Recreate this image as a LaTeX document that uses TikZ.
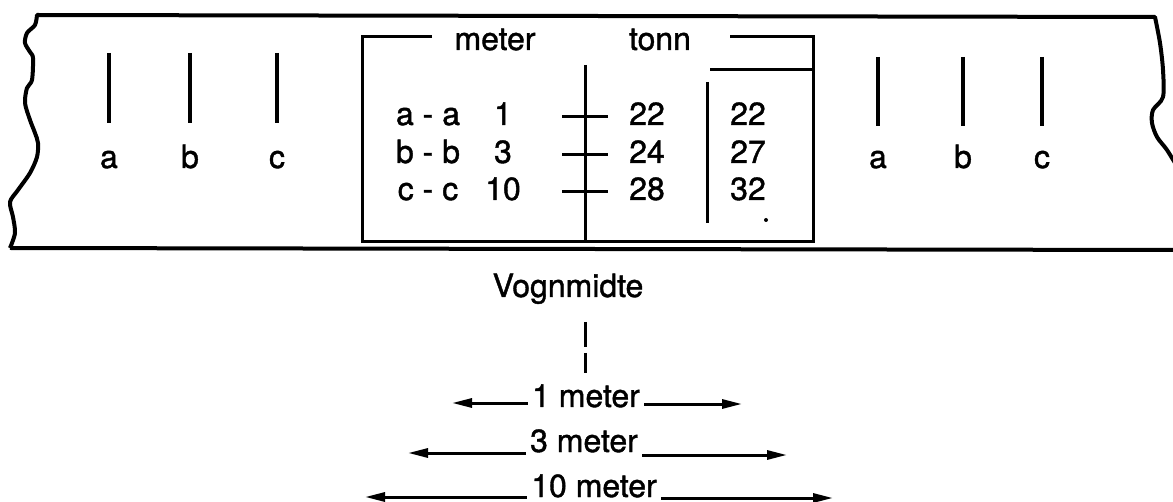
\documentclass[tikz,border=0pt]{standalone}
\usepackage{fontspec}
\setmainfont{TeX Gyre Heros}[FakeBold=1.2]
\usetikzlibrary{arrows.meta}

\begin{document}
\begin{tikzpicture}[x=0.5pt,y=-0.5pt,>={Triangle[length=10pt,width=4.5pt]},
  font=\fontsize{16}{19}\selectfont,
  every node/.style={anchor=base,inner sep=2pt},
  edge/.style={line width=2pt,line join=round},
  frame/.style={line width=1.5pt},
  tickline/.style={line width=1.8pt},
  span/.style={->,line width=1.5pt}]
\useasboundingbox (0,0) rectangle (1173,502);
% wagon floor, torn at both ends
\draw[edge] plot[smooth] coordinates {(10,248) (15,233) (13,217) (10,202) (18,190) (30,173)
  (37,157) (38,143) (35,133) (30,120) (25,103) (27,88) (32,80) (33,58) (30,52) (25,43)
  (27,33) (35,25) (37,15)}
  -- plot[smooth] coordinates {(1155,17) (1160,43) (1163,70) (1163,97) (1153,110)
  (1152,123) (1157,137) (1167,150) (1178,168)};
\draw[edge] (10,248) -- (1178,250);
\foreach \x/\l in {109/a,190/b,277/c}{
\draw[tickline] (\x,53)--(\x,123);
\node (left\l) at (\x,168) {\l};}
\foreach \x/\l in {878/a,963/b,1042/c}{
\draw[tickline] (\x,57)--(\x,126);
\node (right\l) at (\x,168) {\l};}
% table
\node (meter) at (495,50) {meter};
\node (tonn) at (660,50) {tonn};
\draw[frame] (432,37)--(362,37)--(362,242)--(813,242)--(813,37)--(730,37);
\draw[frame] (710,70)--(813,70);
\draw[frame] (585,65)--(585,242);
\draw[frame] (707,82)--(707,223);
\foreach \y/\p/\d/\t/\u [count=\i] in {117/a - a/1/22/22,155/b - b/3/24/27,192/c - c/10/28/32}{
\draw[frame] (562,\y)--(608,\y);
\node (pair\i) at (428,\y+8) {\p};
\node (dist\i) at (503,\y+8) {\d};
\node (load\i) at (647,\y+8) {\t};
\node (more\i) at (748,\y+8) {\u};}
\fill (766,220) circle (1pt);
% centre of wagon
\node (vogn) at (568,297) {Vognmidte};
\draw[frame,dash pattern=on 12.5pt off 3pt] (585,322)--(585,373);
\node (one) at (586,407) {1 meter};
\coordinate (oneL) at (452,403);
\coordinate (oneR) at (742,404);
\draw[span] (one.west |- oneL)--(oneL);
\draw[span] (one.east |- oneR)--(oneR);
\node (three) at (584,452) {3 meter};
\coordinate (threeL) at (408,453);
\coordinate (threeR) at (787,455);
\draw[span] (three.west |- threeL)--(threeL);
\draw[span] (three.east |- threeR)--(threeR);
\node (ten) at (594,497) {10 meter};
\coordinate (tenL) at (365,497);
\coordinate (tenR) at (833,498);
\draw[span] (ten.west |- tenL)--(tenL);
\draw[span] (ten.east |- tenR)--(tenR);
\end{tikzpicture}
\end{document}
